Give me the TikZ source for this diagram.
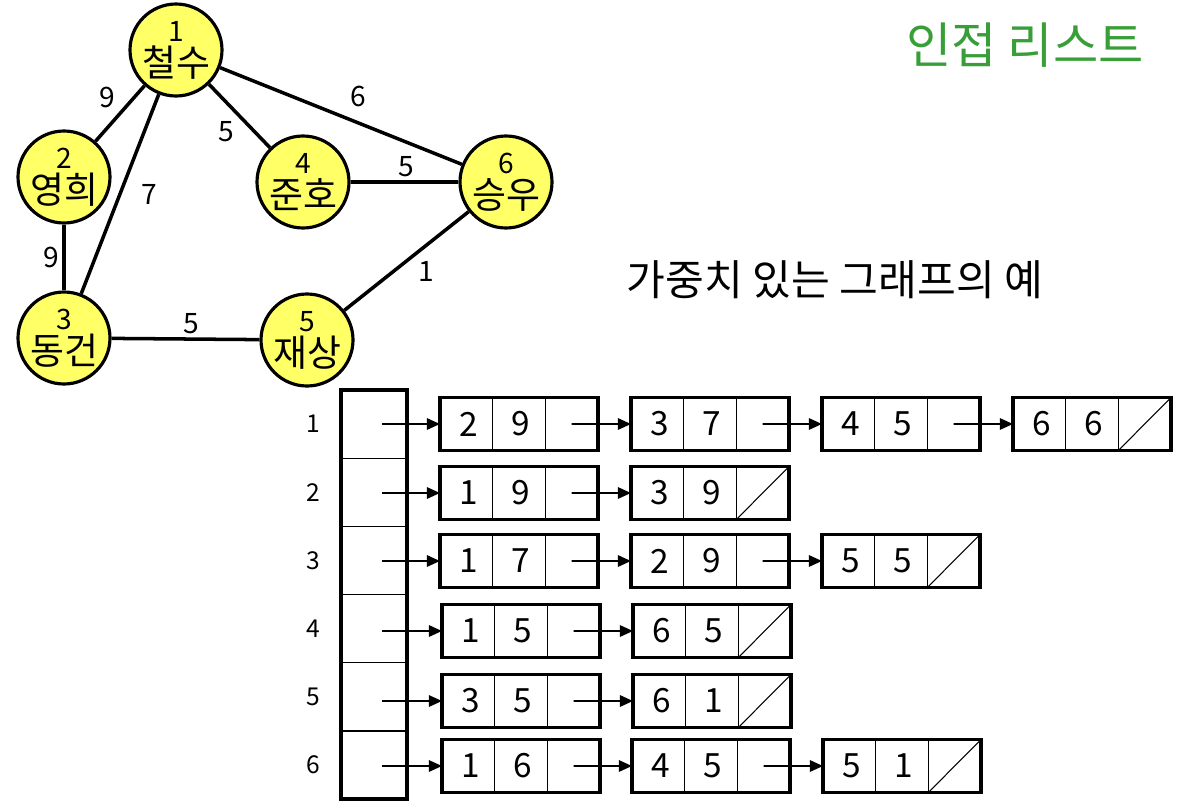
\documentclass[tikz,border=0pt]{standalone}
\usepackage{fontspec}
\setmainfont{Noto Sans CJK KR}
\usetikzlibrary{arrows.meta, positioning, calc, fit}
\definecolor{nodeyellow}{RGB}{255, 255, 102}
\definecolor{titlegreen}{RGB}{56, 158, 56}
\tikzset{
    vertex/.style={draw, circle, line width=1.8pt, fill=nodeyellow, minimum size=1.84cm, inner sep=0pt, align=center, font=\fontsize{21}{20}\selectfont},
    graphedge/.style={line width=2pt},
    weightlabel/.style={font=\fontsize{16}{16}\selectfont, inner sep=2pt},
    arraycell/.style={draw, rectangle, line width=0.7pt, minimum width=1.32cm, minimum height=1.364cm, inner sep=0pt, outer sep=0pt},
    arraybox/.style={draw, rectangle, line width=2.2pt, inner sep=0pt},
    rowlabel/.style={font=\fontsize{14}{14}\selectfont},
    listbox/.style={draw, rectangle, line width=2.2pt, minimum width=3.16cm, minimum height=1.06cm, inner sep=0pt, outer sep=0pt},
    cellnum/.style={font=\fontsize{19}{19}\selectfont, inner sep=0pt},
    divider/.style={line width=0.7pt},
    nilline/.style={line width=0.6pt},
    ptrarrow/.style={-{Triangle[length=7.5pt, width=6.5pt]}, line width=1.1pt},
}
% one list node: name, position, vertex, weight
\newcommand{\adjnode}[4]{%
    \node[listbox] (#1) at (#2) {};
    \draw[divider] ($(#1.north west)!1/3!(#1.north east)$) -- ($(#1.south west)!1/3!(#1.south east)$);
    \draw[divider] ($(#1.north west)!2/3!(#1.north east)$) -- ($(#1.south west)!2/3!(#1.south east)$);
    \node[cellnum] (#1-v) at ($(#1.west)!0.18!(#1.east)$) {#3};
    \node[cellnum] (#1-w) at ($(#1.west)!0.51!(#1.east)$) {#4};
    \coordinate (#1-p) at ($(#1.west)!5/6!(#1.east)$);
}
% null link
\newcommand{\nilslash}[1]{%
    \draw[nilline] ($(#1.south west)!2/3!(#1.south east)$) -- (#1.north east);
}
\newcommand{\vnum}[1]{{\fontsize{16}{16}\selectfont #1}}

\begin{document}
\begin{tikzpicture}
    \useasboundingbox (0,0) rectangle (23.62,-16.02);

    % Titles
    \node[font=\fontsize{28}{28}\selectfont, text=titlegreen] (title) at (20.5,-0.9) {인접 리스트};
    \node[font=\fontsize{24}{24}\selectfont] (caption) at (16.7,-5.6) {가중치 있는 그래프의 예};

    % Graph
    \node[vertex] (v1) at (3.52,-1.00) {\vnum{1}\\철수};
    \node[vertex] (v2) at (1.28,-3.54) {\vnum{2}\\영희};
    \node[vertex] (v4) at (6.06,-3.64) {\vnum{4}\\준호};
    \node[vertex] (v6) at (10.12,-3.64) {\vnum{6}\\승우};
    \node[vertex] (v3) at (1.28,-6.76) {\vnum{3}\\동건};
    \node[vertex] (v5) at (6.14,-6.80) {\vnum{5}\\재상};

    \draw[graphedge] (v1) -- node[weightlabel, above left] {9} (v2);
    \draw[graphedge] (v1) -- node[weightlabel, right=9pt] {7} (v3);
    \draw[graphedge] (v1) -- node[weightlabel, below left] {5} (v4);
    \draw[graphedge] (v1) -- node[weightlabel, above=6pt, pos=0.57] {6} (v6);
    \draw[graphedge] (v4) -- node[weightlabel, above, pos=0.52] {5} (v6);
    \draw[graphedge] (v2) -- node[weightlabel, left] {9} (v3);
    \draw[graphedge] (v3) -- node[weightlabel, above, pos=0.54] {5} (v5);
    \draw[graphedge] (v5) -- node[weightlabel, below right, pos=0.55] {1} (v6);

    % Head array
    \node[arraycell] (a1) at (7.48,-8.482) {};
    \node[arraycell, below=0pt of a1] (a2) {};
    \node[arraycell, below=0pt of a2] (a3) {};
    \node[arraycell, below=0pt of a3] (a4) {};
    \node[arraycell, below=0pt of a4] (a5) {};
    \node[arraycell, below=0pt of a5] (a6) {};
    \node[arraybox, fit=(a1)(a6)] (heads) {};

    \node[rowlabel, left=0.3cm of a1] (l1) {1};
    \node[rowlabel, left=0.3cm of a2] (l2) {2};
    \node[rowlabel, left=0.3cm of a3] (l3) {3};
    \node[rowlabel, left=0.3cm of a4] (l4) {4};
    \node[rowlabel, left=0.3cm of a5] (l5) {5};
    \node[rowlabel, left=0.3cm of a6] (l6) {6};

    % Lists
    \adjnode{n11}{10.38,-8.48}{2}{9}
    \adjnode{n12}{14.20,-8.48}{3}{7}
    \adjnode{n13}{18.02,-8.48}{4}{5}
    \adjnode{n14}{21.84,-8.48}{6}{6}
    \nilslash{n14}

    \adjnode{n21}{10.38,-9.86}{1}{9}
    \adjnode{n22}{14.20,-9.86}{3}{9}
    \nilslash{n22}

    \adjnode{n31}{10.38,-11.22}{1}{7}
    \adjnode{n32}{14.20,-11.22}{2}{9}
    \adjnode{n33}{18.02,-11.22}{5}{5}
    \nilslash{n33}

    \adjnode{n41}{10.42,-12.62}{1}{5}
    \adjnode{n42}{14.24,-12.62}{6}{5}
    \nilslash{n42}

    \adjnode{n51}{10.42,-14.02}{3}{5}
    \adjnode{n52}{14.24,-14.02}{6}{1}
    \nilslash{n52}

    \adjnode{n61}{10.42,-15.32}{1}{6}
    \adjnode{n62}{14.22,-15.32}{4}{5}
    \adjnode{n63}{18.04,-15.32}{5}{1}
    \nilslash{n63}

    % Links
    \draw[ptrarrow] ($(a1.center |- n11.west)+(0.16,0)$) -- (n11.west);
    \draw[ptrarrow] ($(a2.center |- n21.west)+(0.16,0)$) -- (n21.west);
    \draw[ptrarrow] ($(a3.center |- n31.west)+(0.16,0)$) -- (n31.west);
    \draw[ptrarrow] ($(a4.center |- n41.west)+(0.16,0)$) -- (n41.west);
    \draw[ptrarrow] ($(a5.center |- n51.west)+(0.16,0)$) -- (n51.west);
    \draw[ptrarrow] ($(a6.center |- n61.west)+(0.16,0)$) -- (n61.west);

    \draw[ptrarrow] (n11-p) -- (n12.west);
    \draw[ptrarrow] (n12-p) -- (n13.west);
    \draw[ptrarrow] (n13-p) -- (n14.west);
    \draw[ptrarrow] (n21-p) -- (n22.west);
    \draw[ptrarrow] (n31-p) -- (n32.west);
    \draw[ptrarrow] (n32-p) -- (n33.west);
    \draw[ptrarrow] (n41-p) -- (n42.west);
    \draw[ptrarrow] (n51-p) -- (n52.west);
    \draw[ptrarrow] (n61-p) -- (n62.west);
    \draw[ptrarrow] (n62-p) -- (n63.west);
\end{tikzpicture}
\end{document}
